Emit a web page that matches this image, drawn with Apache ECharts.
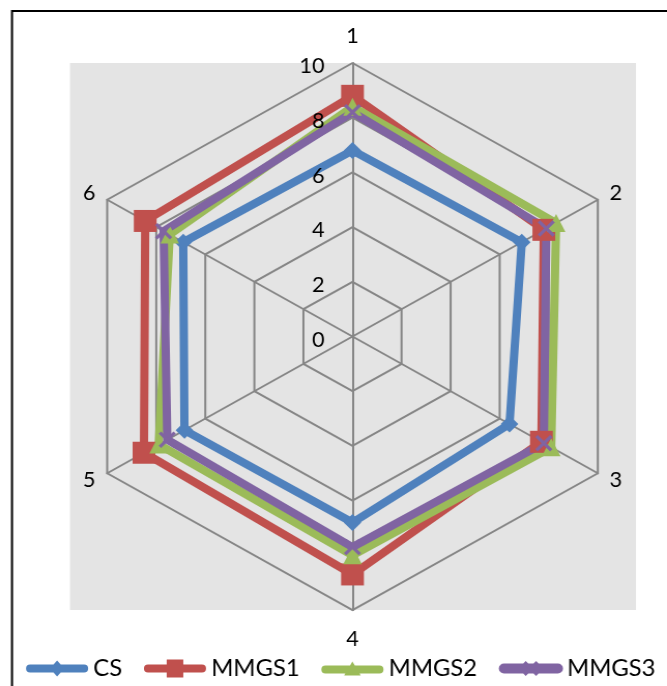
<!DOCTYPE html>
<html>
<head>
<meta charset="utf-8">
<script src="https://cdn.jsdelivr.net/npm/echarts@6/dist/echarts.min.js"></script>
<style>
  html, body { margin: 0; padding: 0; background: #fff; overflow: hidden; }
  /* the chart is drawn slightly narrower and widened to fill the frame */
  #chart { width: 644px; height: 686px; transform: scaleX(1.0357); transform-origin: 0 0; }
</style>
</head>
<body>
<div id="chart"></div>
<script>
// Indicator names (clockwise from the top) and scale
const indicators = ['1', '2', '3', '4', '5', '6'];
const axisMin = 0;
const axisMax = 10;

// Scores per indicator, in the same order as `indicators`
const seriesNames = ['CS', 'MMGS1', 'MMGS2', 'MMGS3'];
const csValues    = [6.8, 6.9, 6.4, 6.8, 6.85, 6.9];
const mmgs1Values = [8.8, 7.8, 7.7, 8.7, 8.5, 8.45];
const mmgs2Values = [8.4, 8.3, 8.1, 8.0, 7.9, 7.45];
const mmgs3Values = [8.2, 7.9, 7.8, 7.7, 7.55, 7.7];

const colors = ['#4F81BD', '#C0504D', '#9BBB59', '#8064A2'];
const FONT = 'Lato, "Liberation Sans", sans-serif';
const SX = 667 / 644;            // horizontal widening applied by CSS
const px = x => x / SX;          // page x -> chart x

// ECharts lays indicators out counter-clockwise; reorder so they run clockwise
const order = [0, 5, 4, 3, 2, 1];
const reorder = arr => order.map(i => arr[i]);

// name placement per indicator (order 1..6)
const nameGaps = [16, 13, 13, 16, 13, 13];
const namePadding = [
  [0, 0, 0, 0],
  [4, 0, 0, 0],
  [0, 0, 0, 0],
  [3, 0, 0, 0],
  [0, 0, 0, 0],
  [4, 0, 0, 0]
];

const crossPath = 'path://M2,0L8,6L14,0L16,2L10,8L16,14L14,16L8,10L2,16L0,14L6,8L0,2Z';

// Legend icons: thick rounded bar with the series marker in the middle
const bar = 'M4,5L56,5A4,4 0 0 1 56,13L4,13A4,4 0 0 1 4,5Z';
const legendIcons = [
  'path://' + bar + 'M30,1L37,9L30,17L23,9Z',
  'path://' + bar + 'M22,0L38,0L38,18L22,18Z',
  'path://' + bar + 'M30,1L38,15L22,15Z',
  'path://' + bar + 'M25,3L30,8L35,3L36,4L31,9L36,14L35,15L30,10L25,15L24,14L29,9L24,4Z'
];

const names = reorder(indicators);
const pads = reorder(namePadding);
const gaps = reorder(nameGaps);
const gridIndicators = names.map((name, i) => ({
  name: name, min: axisMin, max: axisMax,
  nameGap: gaps[i],
  nameTextStyle: { padding: pads[i] }
}));
// the scale labels sit on the top axis only
const labelIndicators = names.map((name, i) => {
  const o = { name: name, min: axisMin, max: axisMax };
  if (i === 0) o.axisLabel = { show: true };
  return o;
});

const symbols = ['diamond', 'rect', 'triangle', crossPath];
const symbolSizes = [17, 22, 18, 16];
const values = [csValues, mmgs1Values, mmgs2Values, mmgs3Values];

const radarBase = {
  center: [px(352.5), 336.5],
  radius: 273.5,
  startAngle: 90,
  splitNumber: 5,
  shape: 'polygon'
};

const chart = echarts.init(document.getElementById('chart'));
chart.setOption({
  animation: false,
  graphic: [
    { type: 'rect', z: -100, shape: { x: px(12), y: 11, width: 700, height: 700 },
      style: { fill: '#fff', stroke: '#000', lineWidth: 2 } },
    { type: 'rect', z: -90, shape: { x: px(70), y: 63, width: px(566), height: 547 },
      style: { fill: '#E4E4E4' } }
  ],
  legend: {
    left: px(26), top: 657, width: 630, padding: 0,
    itemWidth: 60, itemHeight: 18, itemGap: 21,
    textStyle: { fontFamily: FONT, fontSize: 23, color: '#000' },
    data: seriesNames.map((n, i) => ({ name: n, icon: legendIcons[i] }))
  },
  radar: [
    Object.assign({}, radarBase, {
      indicator: gridIndicators,
      axisName: { color: '#000', fontFamily: FONT, fontSize: 21 },
      nameGap: 16,
      axisLine: { lineStyle: { color: '#868686', width: 2 } },
      splitLine: { lineStyle: { color: '#868686', width: 2 } },
      splitArea: { show: false },
      axisTick: { show: false },
      axisLabel: { show: false }
    }),
    Object.assign({}, radarBase, {
      z: 10,
      indicator: labelIndicators,
      axisName: { show: false },
      axisLine: { show: false },
      splitLine: { show: false },
      splitArea: { show: false },
      axisTick: { show: false },
      axisLabel: { show: false, color: '#000', fontFamily: FONT, fontSize: 21, margin: 27,
                   verticalAlign: 'top', lineHeight: 7 }
    })
  ],
  series: [{
    type: 'radar',
    radarIndex: 0,
    data: seriesNames.map((n, i) => ({
      name: n,
      value: reorder(values[i]),
      symbol: symbols[i],
      symbolSize: symbolSizes[i],
      lineStyle: { color: colors[i], width: 8, join: 'miter' },
      itemStyle: { color: colors[i], borderColor: colors[i], borderWidth: i === 3 ? 0.5 : 0 }
    }))
  }],
  color: colors
});
</script>
</body>
</html>
